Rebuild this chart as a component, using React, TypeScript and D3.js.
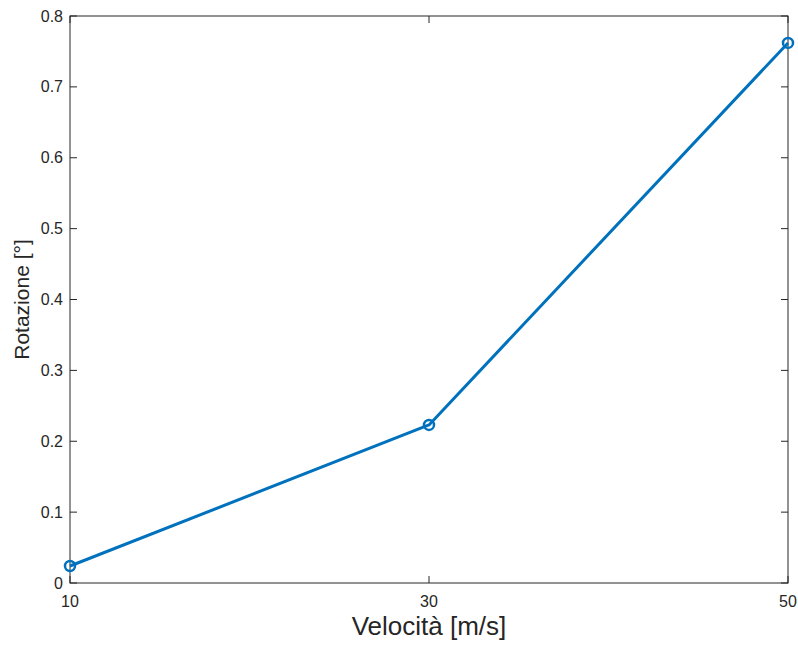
import React, { useEffect, useRef } from 'react';
import * as d3 from 'd3';

const speeds = [10, 30, 50];
const rotations = [0.024, 0.223, 0.762];
const xTicks = [10, 30, 50];
const yTicks = [0, 0.1, 0.2, 0.3, 0.4, 0.5, 0.6, 0.7, 0.8];

const W = 798;
const H = 646;
const margin = { top: 16, right: 10, bottom: 63, left: 70 };
const axisColor = '#262626';
const lineColor = '#0072bd';
const font = '"Liberation Sans", Arial, sans-serif';

export default function App() {
  const ref = useRef<SVGSVGElement>(null);

  useEffect(() => {
    if (!ref.current) return;
    const svg = d3.select(ref.current);
    svg.selectAll('*').remove();

    const x = d3.scaleLinear().domain([10, 50]).range([margin.left, W - margin.right]);
    const y = d3.scaleLinear().domain([0, 0.8]).range([H - margin.bottom, margin.top]);
    const tick = 7;

    const data = speeds.map((s, i) => ({ x: s, y: rotations[i] }));

    // box
    svg.append('rect')
      .attr('x', x(10)).attr('y', y(0.8))
      .attr('width', x(50) - x(10)).attr('height', y(0) - y(0.8))
      .attr('fill', 'white').attr('stroke', axisColor).attr('stroke-width', 1);

    const g = svg.append('g').attr('stroke', axisColor).attr('stroke-width', 1);
    yTicks.forEach(t => {
      g.append('line').attr('x1', x(10)).attr('x2', x(10) + tick).attr('y1', y(t)).attr('y2', y(t));
      g.append('line').attr('x1', x(50)).attr('x2', x(50) - tick).attr('y1', y(t)).attr('y2', y(t));
    });
    xTicks.forEach(t => {
      g.append('line').attr('x1', x(t)).attr('x2', x(t)).attr('y1', y(0)).attr('y2', y(0) - tick);
      g.append('line').attr('x1', x(t)).attr('x2', x(t)).attr('y1', y(0.8)).attr('y2', y(0.8) + tick);
    });

    svg.append('g').selectAll('text').data(yTicks).join('text')
      .attr('x', x(10) - 7).attr('y', d => y(d)).attr('dy', '0.35em')
      .attr('text-anchor', 'end').attr('font-family', font).attr('font-size', 16)
      .attr('fill', axisColor).text(d => d3.format('')(d));

    svg.append('g').selectAll('text').data(xTicks).join('text')
      .attr('x', d => x(d)).attr('y', y(0) + 24)
      .attr('text-anchor', 'middle').attr('font-family', font).attr('font-size', 16)
      .attr('fill', axisColor).text(d => String(d));

    const line = d3.line<{ x: number; y: number }>().x(d => x(d.x)).y(d => y(d.y));
    svg.append('path').datum(data)
      .attr('fill', 'none').attr('stroke', lineColor).attr('stroke-width', 3)
      .attr('stroke-linejoin', 'round').attr('d', line);

    svg.append('g').selectAll('circle').data(data).join('circle')
      .attr('cx', d => x(d.x)).attr('cy', d => y(d.y)).attr('r', 5)
      .attr('fill', 'none').attr('stroke', lineColor).attr('stroke-width', 2.5);

    svg.append('text')
      .attr('x', (x(10) + x(50)) / 2).attr('y', 635)
      .attr('text-anchor', 'middle').attr('font-family', font).attr('font-size', 26)
      .attr('fill', axisColor).text('Velocità [m/s]');

    svg.append('text')
      .attr('transform', `translate(29,${(y(0) + y(0.8)) / 2}) rotate(-90)`)
      .attr('text-anchor', 'middle').attr('font-family', font).attr('font-size', 21)
      .attr('fill', axisColor).text('Rotazione [°]');
  }, []);

  return (
    <div style={{ position: 'absolute', left: 0, top: 0 }}>
      <svg ref={ref} width={W} height={H} style={{ display: 'block', background: 'white' }} />
    </div>
  );
}
